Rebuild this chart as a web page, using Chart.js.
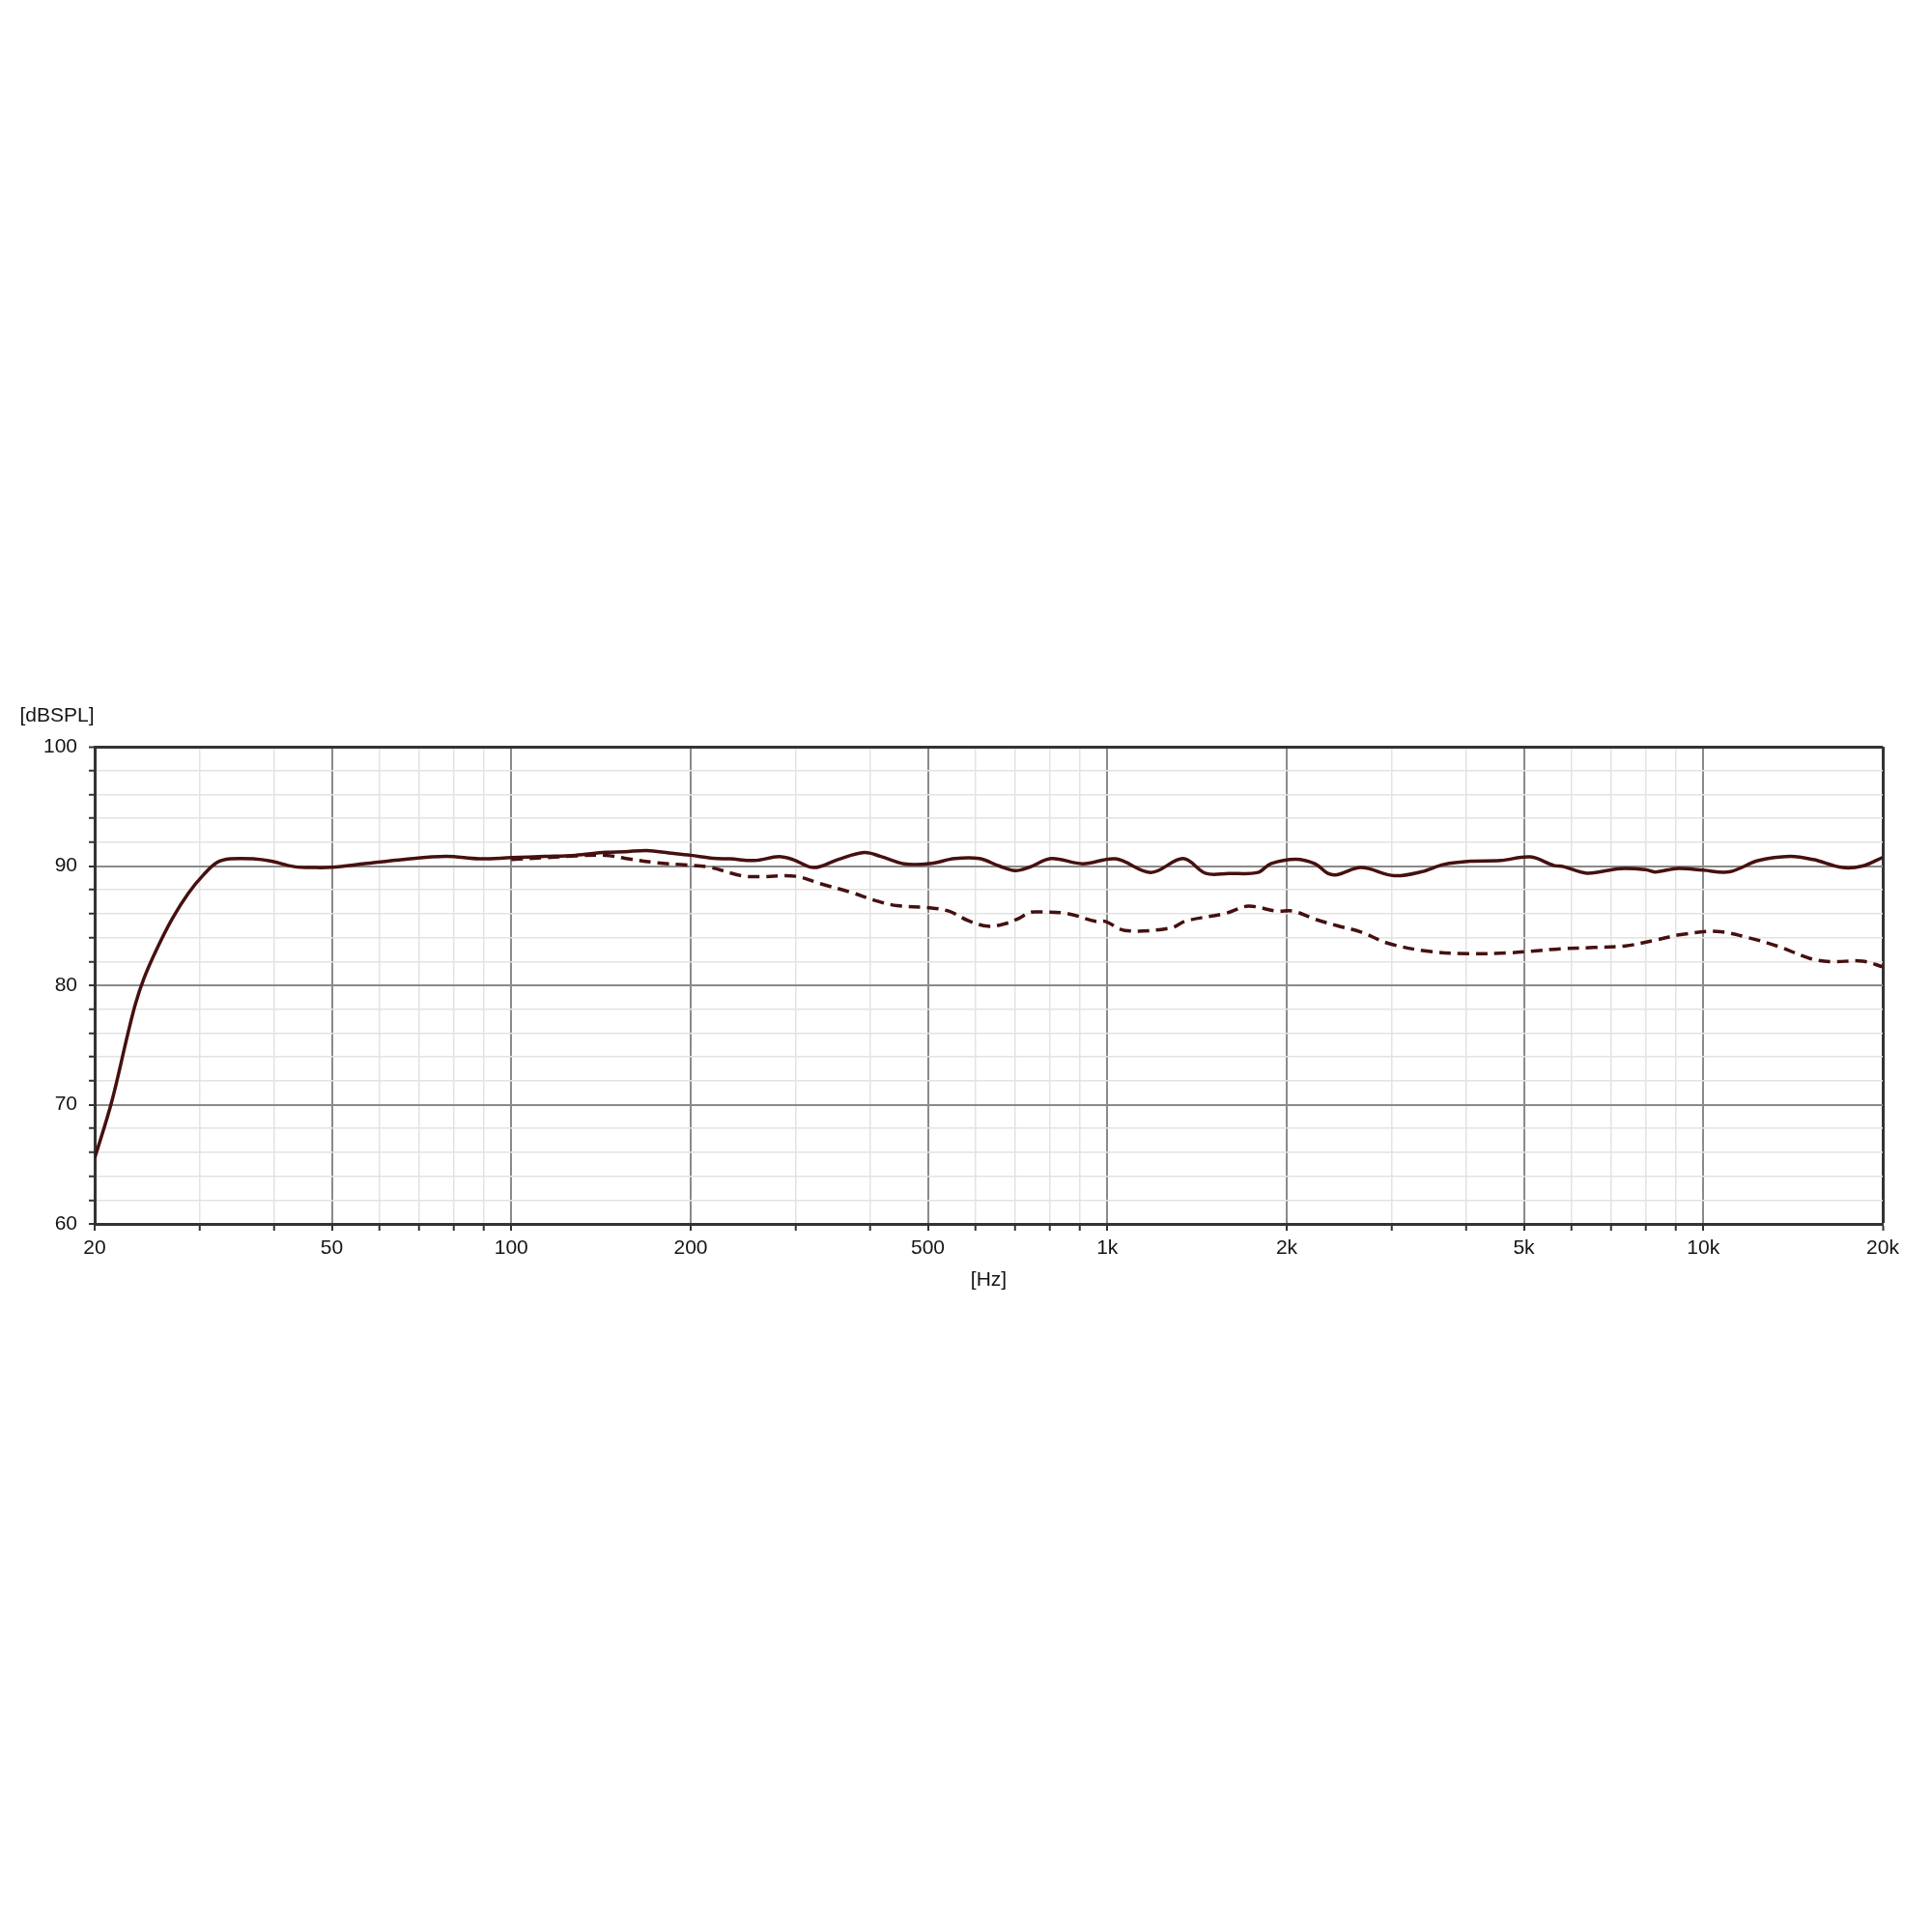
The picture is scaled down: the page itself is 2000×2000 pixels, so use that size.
<!DOCTYPE html>
<html><head><meta charset="utf-8">
<script src="https://cdn.jsdelivr.net/npm/chart.js@4"></script>
<style>html,body{margin:0;padding:0;background:#fff}</style>
</head><body>
<canvas id="c" width="2000" height="2000" style="width:2000px;height:2000px;display:block"></canvas>
<script>
// Solid curve (on-axis response)
const solidFreq = [20,21.35,22.7,23.4,24.2,25.4,27,28.7,30.5,32.1,33.8,36.9,39.6,43.2,47.1,50,56.8,66,77.7,88.4,100,114,128,144,155,169,184,200,218,233,256,281,297,322,353,391,417,456,503,555,610,659,700,740,805,909,1033,1184,1340,1464,1598,1790,1880,2070,2230,2345,2430,2665,3030,3360,3670,4070,4570,5130,5610,5830,6380,7240,8000,8300,9070,10000,11050,12380,13990,15290,17130,18490,20000];
const solidDb   = [65.5,70.2,75.8,78.4,80.6,83.0,85.6,87.7,89.3,90.3,90.6,90.6,90.4,89.95,89.87,89.9,90.2,90.55,90.8,90.6,90.7,90.8,90.9,91.15,91.2,91.3,91.1,90.9,90.65,90.6,90.46,90.78,90.54,89.87,90.54,91.13,90.8,90.19,90.2,90.62,90.62,90.0,89.62,89.9,90.62,90.19,90.6,89.46,90.62,89.38,89.38,89.46,90.19,90.57,90.19,89.38,89.27,89.87,89.19,89.51,90.13,90.4,90.46,90.76,90.05,89.95,89.4,89.78,89.7,89.5,89.8,89.65,89.51,90.46,90.81,90.54,89.87,90.0,90.73];
// Dashed curve (off-axis response)
const dashFreq = [100,114,128,144,155,176,195,215,243,259,300,330,369,413,444,503,542,585,630,671,710,740,765,855,956,993,1070,1274,1357,1578,1722,1925,2050,2230,2430,2665,2960,3460,4040,4690,5130,5760,6550,7400,8330,9170,10530,11930,13380,15100,16310,18490,20000];
const dashDb   = [90.55,90.7,90.85,90.9,90.65,90.27,90.1,89.9,89.19,89.1,89.14,88.52,87.84,87.03,86.68,86.5,86.22,85.41,84.95,85.14,85.6,86.1,86.15,86.03,85.36,85.36,84.6,84.79,85.4,86.03,86.63,86.22,86.22,85.55,85.0,84.47,83.52,82.85,82.66,82.71,82.85,83.06,83.17,83.3,83.8,84.25,84.52,83.98,83.25,82.25,81.98,82.03,81.55];

const xTickValues = [20,30,40,50,60,70,80,90,100,200,300,400,500,600,700,800,900,1000,2000,3000,4000,5000,6000,7000,8000,9000,10000,20000];
const xTickLabels = {20:'20',50:'50',100:'100',200:'200',500:'500',1000:'1k',2000:'2k',5000:'5k',10000:'10k',20000:'20k'};
const yTickValues = [60,62,64,66,68,70,72,74,76,78,80,82,84,86,88,90,92,94,96,98,100];
const yTickLabels = {60:'60',70:'70',80:'80',90:'90',100:'100'};
const yAxisTitle = '[dBSPL]';
const xAxisTitle = '[Hz]';

const LINE = '#461010';
const FONT = '"Liberation Sans", Arial, sans-serif';

const toPts = (f, v) => f.map((x, i) => ({x: x, y: v[i]}));

const textPlugin = {
  id: 'axisTitles',
  afterDraw(chart) {
    const {ctx, chartArea} = chart;
    ctx.save();
    ctx.fillStyle = '#141414';
    ctx.font = '21px ' + FONT;
    ctx.textAlign = 'center';
    ctx.textBaseline = 'middle';
    ctx.fillText(yAxisTitle, 59, 741);
    ctx.fillText(xAxisTitle, (chartArea.left + chartArea.right) / 2, 1325);
    ctx.restore();
  }
};

const tickVal = (ctx) => (ctx.tick ? ctx.tick.value : null);

new Chart(document.getElementById('c'), {
  type: 'line',
  data: {
    datasets: [
      {data: toPts(dashFreq, dashDb), borderColor: LINE, borderWidth: 3.5, borderDash: [12, 7], pointRadius: 0, tension: 0.35, fill: false},
      {data: toPts(solidFreq, solidDb), borderColor: LINE, borderWidth: 3.5, pointRadius: 0, tension: 0.35, fill: false}
    ]
  },
  options: {
    responsive: false,
    animation: false,
    devicePixelRatio: 1,
    layout: {padding: {left: 0, right: 51, top: 773, bottom: 673}},
    plugins: {legend: {display: false}, tooltip: {enabled: false}},
    scales: {
      x: {
        type: 'logarithmic',
        min: 20, max: 20000,
        afterFit: (s) => { s.height = 60; },
        afterBuildTicks: (s) => { s.ticks = xTickValues.map(v => ({value: v})); },
        ticks: {
          autoSkip: false, maxRotation: 0, minRotation: 0, padding: 6,
          color: '#141414', font: {family: FONT, size: 21},
          callback: (v) => xTickLabels[v] || ''
        },
        grid: {
          color: (ctx) => { const v = tickVal(ctx); return v === 20000 ? '#333333' : (xTickLabels[v] ? '#8a8a8a' : '#e3e3e3'); },
          lineWidth: (ctx) => { const v = tickVal(ctx); return v === 20000 ? 3 : (xTickLabels[v] ? 2 : 1.5); },
          tickColor: '#333333', tickLength: 7, tickWidth: 2
        },
        border: {color: '#333333', width: 3}
      },
      y: {
        type: 'linear',
        min: 60, max: 100,
        afterFit: (s) => { s.width = 98; },
        afterBuildTicks: (s) => { s.ticks = yTickValues.map(v => ({value: v})); },
        ticks: {
          autoSkip: false, padding: 12,
          color: '#141414', font: {family: FONT, size: 21},
          callback: (v) => yTickLabels[v] || ''
        },
        grid: {
          color: (ctx) => { const v = tickVal(ctx); return v === 100 ? '#333333' : (yTickLabels[v] ? '#8a8a8a' : '#e3e3e3'); },
          lineWidth: (ctx) => { const v = tickVal(ctx); return v === 100 ? 3 : (yTickLabels[v] ? 2 : 1.5); },
          tickColor: '#333333', tickLength: 6, tickWidth: 2
        },
        border: {color: '#333333', width: 3}
      }
    }
  },
  plugins: [textPlugin]
});
</script>
</body></html>
